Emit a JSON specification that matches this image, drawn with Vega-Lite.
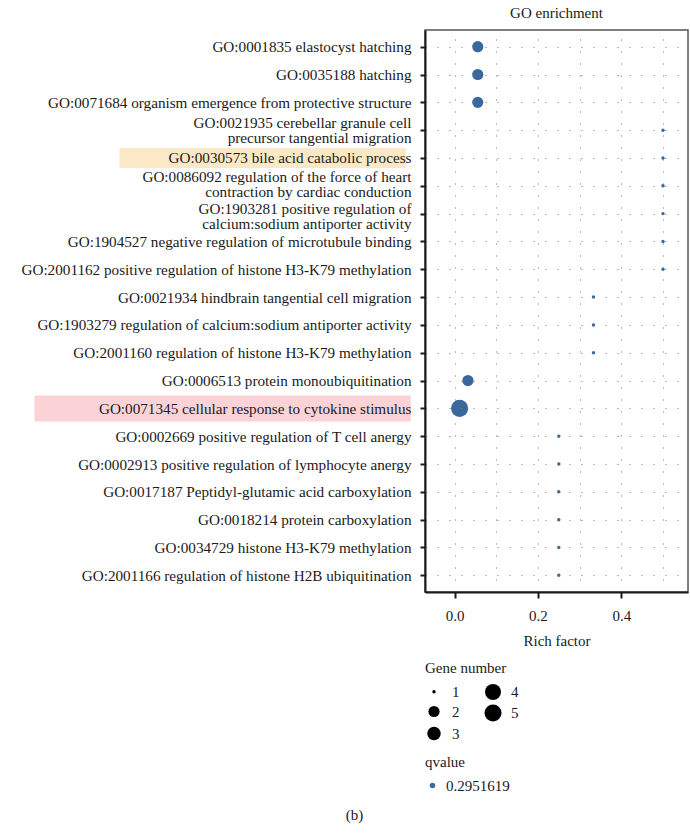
{
  "$schema": "https://vega.github.io/schema/vega-lite/v6.json",
  "background": "white",
  "padding": {"left": 20, "right": 0, "top": 5, "bottom": 5},
  "config": {
    "font": "Liberation Serif",
    "view": {"stroke": "#555555", "strokeWidth": 1.5},
    "axis": {"labelFont": "Liberation Serif", "titleFont": "Liberation Serif", "labelColor": "#1a1a1a", "titleColor": "#1a1a1a", "titleFontWeight": "normal"},
    "legend": {"labelFont": "Liberation Serif", "titleFont": "Liberation Serif", "labelFontSize": 15, "titleFontSize": 15, "titleFontWeight": "normal", "labelColor": "#1a1a1a", "titleColor": "#1a1a1a"},
    "title": {"font": "Liberation Serif", "fontWeight": "normal", "color": "#1a1a1a"}
  },
  "title": {"text": "(b)", "orient": "bottom", "anchor": "middle", "fontSize": 15, "offset": 14, "frame": "bounds"},
  "vconcat": [
    {
      "width": 263,
      "height": 562,
      "title": {"text": "GO enrichment", "fontSize": 15, "offset": 9},
      "data": {"values": [
        {"term": "GO:0001835 elastocyst hatching", "rich": 0.0556, "genes": 2, "qvalue": 0.2951619, "highlight": "none"},
        {"term": "GO:0035188 hatching", "rich": 0.0556, "genes": 2, "qvalue": 0.2951619, "highlight": "none"},
        {"term": "GO:0071684 organism emergence from protective structure", "rich": 0.0556, "genes": 2, "qvalue": 0.2951619, "highlight": "none"},
        {"term": "GO:0021935 cerebellar granule cell|precursor tangential migration", "rich": 0.5, "genes": 1, "qvalue": 0.2951619, "highlight": "none"},
        {"term": "GO:0030573 bile acid catabolic process", "rich": 0.5, "genes": 1, "qvalue": 0.2951619, "highlight": "bile"},
        {"term": "GO:0086092 regulation of the force of heart|contraction by cardiac conduction", "rich": 0.5, "genes": 1, "qvalue": 0.2951619, "highlight": "none"},
        {"term": "GO:1903281 positive regulation of|calcium:sodium antiporter activity", "rich": 0.5, "genes": 1, "qvalue": 0.2951619, "highlight": "none"},
        {"term": "GO:1904527 negative regulation of microtubule binding", "rich": 0.5, "genes": 1, "qvalue": 0.2951619, "highlight": "none"},
        {"term": "GO:2001162 positive regulation of histone H3-K79 methylation", "rich": 0.5, "genes": 1, "qvalue": 0.2951619, "highlight": "none"},
        {"term": "GO:0021934 hindbrain tangential cell migration", "rich": 0.3333, "genes": 1, "qvalue": 0.2951619, "highlight": "none"},
        {"term": "GO:1903279 regulation of calcium:sodium antiporter activity", "rich": 0.3333, "genes": 1, "qvalue": 0.2951619, "highlight": "none"},
        {"term": "GO:2001160 regulation of histone H3-K79 methylation", "rich": 0.3333, "genes": 1, "qvalue": 0.2951619, "highlight": "none"},
        {"term": "GO:0006513 protein monoubiquitination", "rich": 0.032, "genes": 2, "qvalue": 0.2951619, "highlight": "none"},
        {"term": "GO:0071345 cellular response to cytokine stimulus", "rich": 0.012, "genes": 5, "qvalue": 0.2951619, "highlight": "cytokine"},
        {"term": "GO:0002669 positive regulation of T cell anergy", "rich": 0.25, "genes": 1, "qvalue": 0.2951619, "highlight": "none"},
        {"term": "GO:0002913 positive regulation of lymphocyte anergy", "rich": 0.25, "genes": 1, "qvalue": 0.2951619, "highlight": "none"},
        {"term": "GO:0017187 Peptidyl-glutamic acid carboxylation", "rich": 0.25, "genes": 1, "qvalue": 0.2951619, "highlight": "none"},
        {"term": "GO:0018214 protein carboxylation", "rich": 0.25, "genes": 1, "qvalue": 0.2951619, "highlight": "none"},
        {"term": "GO:0034729 histone H3-K79 methylation", "rich": 0.25, "genes": 1, "qvalue": 0.2951619, "highlight": "none"},
        {"term": "GO:2001166 regulation of histone H2B ubiquitination", "rich": 0.25, "genes": 1, "qvalue": 0.2951619, "highlight": "none"}
      ]},
      "encoding": {
        "y": {
          "field": "term", "type": "nominal", "sort": null,
          "scale": {"type": "point", "padding": 0.6},
          "axis": {
            "title": null, "zindex": 1,
            "labelExpr": "split(datum.label, '|')",
            "labelFontSize": 15.2, "labelLineHeight": 15.6, "labelLimit": 0, "labelPadding": 9,
            "labelOffset": {"condition": [
              {"test": "indexof(datum.label, 'GO:0086092') >= 0", "value": -9.4},
              {"test": "indexof(datum.label, 'GO:1903281') >= 0", "value": -5.6},
              {"test": "indexof(datum.label, '|') >= 0", "value": -7.8}
            ], "value": 0},
            "tickSize": 5, "tickWidth": 2, "tickColor": "#1a1a1a",
            "domainColor": "#1a1a1a", "domainWidth": 2,
            "grid": true, "gridColor": "#777777", "gridDash": [1, 11], "gridWidth": 1
          }
        }
      },
      "layer": [
        {
          "mark": {"type": "circle", "opacity": 1},
          "encoding": {
            "x": {"field": "rich", "type": "quantitative", "scale": {"domain": [-0.071, 0.56], "nice": false, "zero": false},
              "axis": {
                "values": [0, 0.1, 0.2, 0.3, 0.4, 0.5], "format": ".1f",
                "labelExpr": "round(datum.value * 10) % 2 === 0 ? datum.label : ''",
                "tickOpacity": {"condition": {"test": "round(datum.value * 10) % 2 === 0", "value": 1}, "value": 0},
                "title": "Rich factor", "titleFontSize": 15, "titlePadding": 10,
                "labelFontSize": 15, "labelPadding": 10,
                "tickSize": 6, "tickWidth": 2, "tickColor": "#1a1a1a",
                "domainColor": "#1a1a1a", "domainWidth": 2,
                "grid": true, "gridColor": "#777777", "gridDash": [1, 11], "gridWidth": 1
              }
            },
            "size": {
              "field": "genes", "type": "quantitative",
              "scale": {"type": "linear", "domain": [1, 2, 3, 4, 5], "range": [12, 125, 180, 255, 290]},
              "legend": {
                "title": "Gene number", "orient": "none", "legendX": 0, "legendY": 631,
                "columns": 2, "values": [1, 2, 3, 4, 5], "columnPadding": 24, "rowPadding": 4,
                "symbolFillColor": "#000000", "symbolStrokeColor": "#000000", "symbolOpacity": 1, "symbolStrokeWidth": 0,
                "titlePadding": 8, "labelOffset": 9
              }
            },
            "color": {
              "field": "qvalue", "type": "nominal",
              "scale": {"range": ["#3a689c"]},
              "legend": {
                "title": "qvalue", "orient": "none", "legendX": 0, "legendY": 725,
                "symbolSize": 30, "symbolType": "circle", "titlePadding": 8, "labelOffset": 6
              }
            }
          }
        },
        {
          "transform": [{"filter": "datum.highlight === 'bile'"}],
          "mark": {"type": "rect", "height": 20, "clip": false},
          "encoding": {
            "x": {"datum": -0.804, "type": "quantitative"},
            "x2": {"datum": -0.117},
            "fill": {"field": "highlight", "type": "nominal", "scale": {"domain": ["bile", "cytokine"], "range": ["#fae8c6", "#fbd3d7"]}, "legend": null}
          }
        },
        {
          "transform": [{"filter": "datum.highlight === 'cytokine'"}],
          "mark": {"type": "rect", "height": 26, "clip": false},
          "encoding": {
            "x": {"datum": -1.008, "type": "quantitative"},
            "x2": {"datum": -0.105},
            "fill": {"field": "highlight", "type": "nominal", "legend": null}
          }
        }
      ]
    }
  ]
}
